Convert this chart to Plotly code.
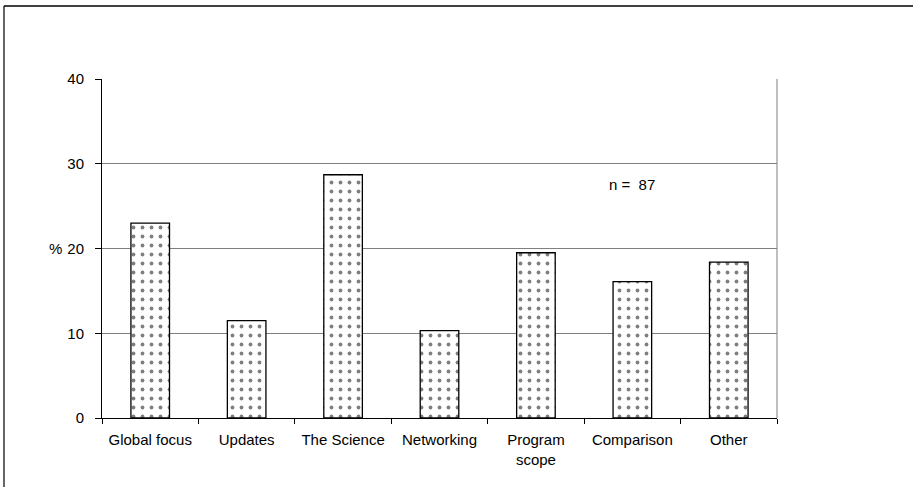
import plotly.graph_objects as go

categories = ["Global focus", "Updates", "The Science", "Networking", "Program<br>scope", "Comparison", "Other"]
percent = [23.0, 11.5, 28.7, 10.3, 19.5, 16.1, 18.4]
y_ticks = [0, 10, 20, 30, 40]
n_label = "n =  87"

FONT = "Liberation Sans, Arial, sans-serif"
FS = 15

fig = go.Figure()
fig.add_trace(go.Bar(
    x=categories, y=percent, width=0.4,
    marker=dict(color="white", line=dict(color="black", width=1.3),
                pattern=dict(shape=".", fgcolor="black", bgcolor="white", size=9, solidity=0.14)),
    showlegend=False, hoverinfo="skip",
))

fig.update_layout(
    width=913, height=487,
    margin=dict(l=102, r=136, t=79, b=69),
    paper_bgcolor="white", plot_bgcolor="white",
    font=dict(family=FONT, size=FS, color="black"),
)
fig.update_xaxes(
    type="category", tickson="boundaries", ticks="outside", ticklen=5, tickcolor="black",
    showline=True, linecolor="black", linewidth=1, showgrid=False,
    ticklabelstandoff=8,
    tickfont=dict(family=FONT, size=FS, color="black"),
)
fig.update_yaxes(
    range=[0, 40], tickvals=y_ticks, ticks="outside", ticklen=6, tickcolor="black",
    showline=True, linecolor="black", linewidth=1,
    showgrid=True, gridcolor="#7f7f7f", gridwidth=1, zeroline=False,
    ticklabelstandoff=8,
    tickfont=dict(family=FONT, size=FS, color="black"),
)

# right border of plot area
fig.add_shape(type="line", xref="paper", yref="y", x0=1, x1=1, y0=0, y1=40,
              line=dict(color="#7f7f7f", width=1))
# outer frame (top and left edges)
fig.add_shape(type="line", xref="paper", yref="paper", x0=-0.1452, x1=1.25, y0=1.2153, y1=1.2153,
              line=dict(color="black", width=1.5))
fig.add_shape(type="line", xref="paper", yref="paper", x0=-0.1452, x1=-0.1452, y0=1.2153, y1=-0.25,
              line=dict(color="black", width=1.2))

fig.add_annotation(x="Comparison", y=27.6, xref="x", yref="y", text=n_label, showarrow=False,
                   font=dict(family=FONT, size=FS, color="black"))
fig.add_annotation(x=(55 - 102) / 675, y=20, xref="paper", yref="y", text="%", showarrow=False,
                   xanchor="center", font=dict(family=FONT, size=FS, color="black"))

fig.write_html("out.html", config={"displayModeBar": False},
               post_script="document.body.style.margin='0';")
